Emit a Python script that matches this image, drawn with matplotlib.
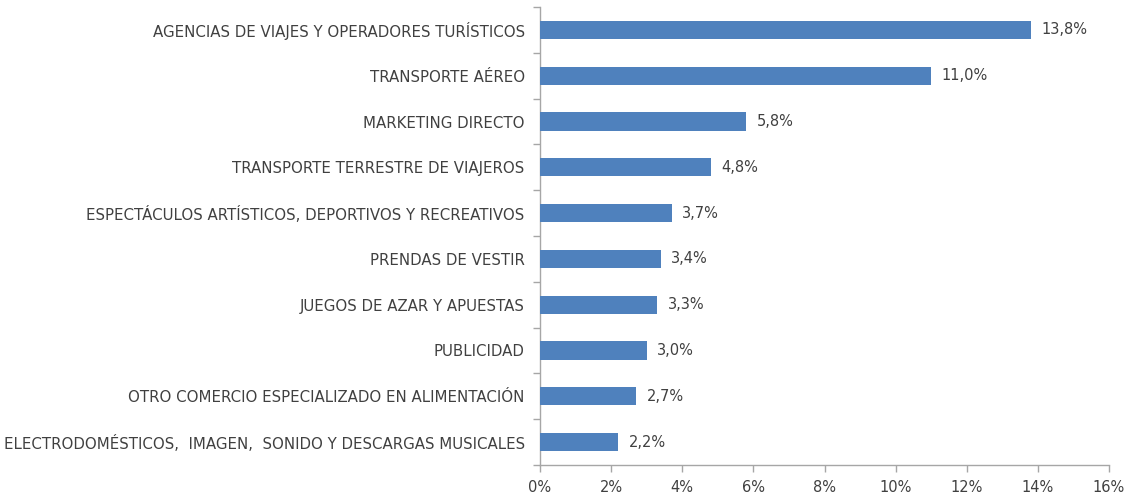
import matplotlib
matplotlib.use("Agg")
import matplotlib.pyplot as plt
from matplotlib.ticker import FixedLocator, FuncFormatter
import numpy as np

categories = [
    "AGENCIAS DE VIAJES Y OPERADORES TURÍSTICOS",
    "TRANSPORTE AÉREO",
    "MARKETING DIRECTO",
    "TRANSPORTE TERRESTRE DE VIAJEROS",
    "ESPECTÁCULOS ARTÍSTICOS, DEPORTIVOS Y RECREATIVOS",
    "PRENDAS DE VESTIR",
    "JUEGOS DE AZAR Y APUESTAS",
    "PUBLICIDAD",
    "OTRO COMERCIO ESPECIALIZADO EN ALIMENTACIÓN",
    "ELECTRODOMÉSTICOS,  IMAGEN,  SONIDO Y DESCARGAS MUSICALES",
]
values = [13.8, 11.0, 5.8, 4.8, 3.7, 3.4, 3.3, 3.0, 2.7, 2.2]
value_labels = ["13,8%", "11,0%", "5,8%", "4,8%", "3,7%", "3,4%", "3,3%", "3,0%", "2,7%", "2,2%"]
x_ticks = [0, 2, 4, 6, 8, 10, 12, 14, 16]

text_color = "#404040"
spine_color = "#a6a6a6"
bar_color = "#4F81BD"

fig = plt.figure(figsize=(11.26, 4.96), dpi=100)
ax = fig.add_axes([540/1126, 31/496, 569/1126, 458/496])

n = len(categories)
y = np.arange(n)[::-1]
ax.barh(y, values, height=0.4, color=bar_color, zorder=3)

for yi, v, lab in zip(y, values, value_labels):
    ax.annotate(lab, (v, yi), xytext=(7.5, 0), textcoords="offset points",
                va="center", ha="left", fontsize=10.5, color=text_color,
                fontfamily="DejaVu Sans")

ax.set_xlim(0, 16)
ax.set_ylim(-0.5, n - 0.5)
ax.xaxis.set_major_locator(FixedLocator(x_ticks))
ax.xaxis.set_major_formatter(FuncFormatter(lambda v, p: f"{int(v)}%"))
ax.set_yticks(y)
ax.set_yticklabels(categories, fontfamily="Liberation Sans Narrow",
                   fontsize=10.8, color=text_color)
ax.yaxis.set_minor_locator(FixedLocator(np.arange(-0.5, n, 1.0)))
ax.tick_params(axis="y", which="major", length=0, pad=11)
ax.tick_params(axis="y", which="minor", length=5, color=spine_color, width=1)
ax.tick_params(axis="x", which="major", length=5, color=spine_color, width=1,
               labelsize=10.5, labelcolor=text_color, pad=6)
for lab in ax.get_xticklabels():
    lab.set_fontfamily("DejaVu Sans")

for s in ["top", "right"]:
    ax.spines[s].set_visible(False)
for s in ["left", "bottom"]:
    ax.spines[s].set_color(spine_color)
    ax.spines[s].set_linewidth(1)

fig.savefig("out.png", dpi=100)
